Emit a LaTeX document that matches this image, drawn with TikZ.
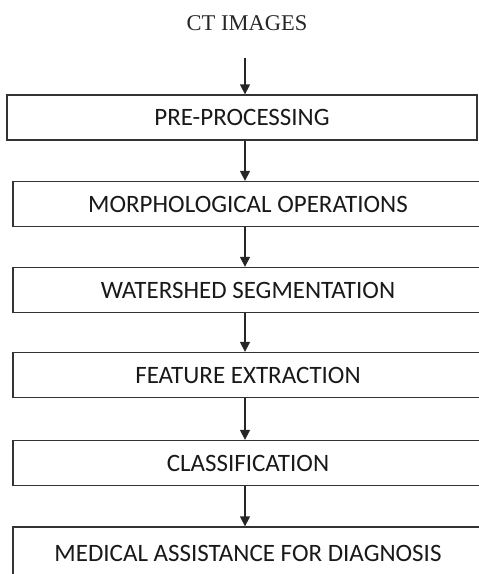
\documentclass[tikz,border=0pt]{standalone}
\usepackage{fontspec}
\setmainfont{Liberation Serif}
\newfontfamily\stagefont{Carlito}
\usetikzlibrary{arrows.meta}
\tikzset{
    stage/.style={draw=black!80, line width=1.3pt, minimum width=470pt, minimum height=45pt, inner sep=0pt, font=\stagefont\fontsize{25}{25}\selectfont, text=black!90},
    flow/.style={-{Triangle[length=10pt, width=10pt]}, line width=1.4pt, draw=black!85},
    title/.style={font=\fontsize{22.5}{22.5}\selectfont, text=black!85}
}

\begin{document}
\begin{tikzpicture}[x=1pt, y=-1pt]
    \clip (0,0) rectangle (479,574);
    % Input
    \node[title] (ct) at (247,23) {CT IMAGES};
    \coordinate (start) at (245,58);
    % Stages
    \node[stage] (pre) at (242,117.5) {PRE-PROCESSING};
    \node[stage] (morph) at (248,204) {MORPHOLOGICAL OPERATIONS};
    \node[stage] (water) at (248,290) {WATERSHED SEGMENTATION};
    \node[stage] (feat) at (248,375) {FEATURE EXTRACTION};
    \node[stage] (class) at (248,463) {CLASSIFICATION};
    \node[stage, minimum height=52pt] (med) at (248,553) {MEDICAL ASSISTANCE FOR DIAGNOSIS};
    % Arrows
    \draw[flow] (start) -- (start |- pre.north);
    \draw[flow] (pre.south -| start) -- (morph.north -| start);
    \draw[flow] (morph.south -| start) -- (water.north -| start);
    \draw[flow] (water.south -| start) -- (feat.north -| start);
    \draw[flow] (feat.south -| start) -- (class.north -| start);
    \draw[flow] (class.south -| start) -- (med.north -| start);
\end{tikzpicture}
\end{document}
